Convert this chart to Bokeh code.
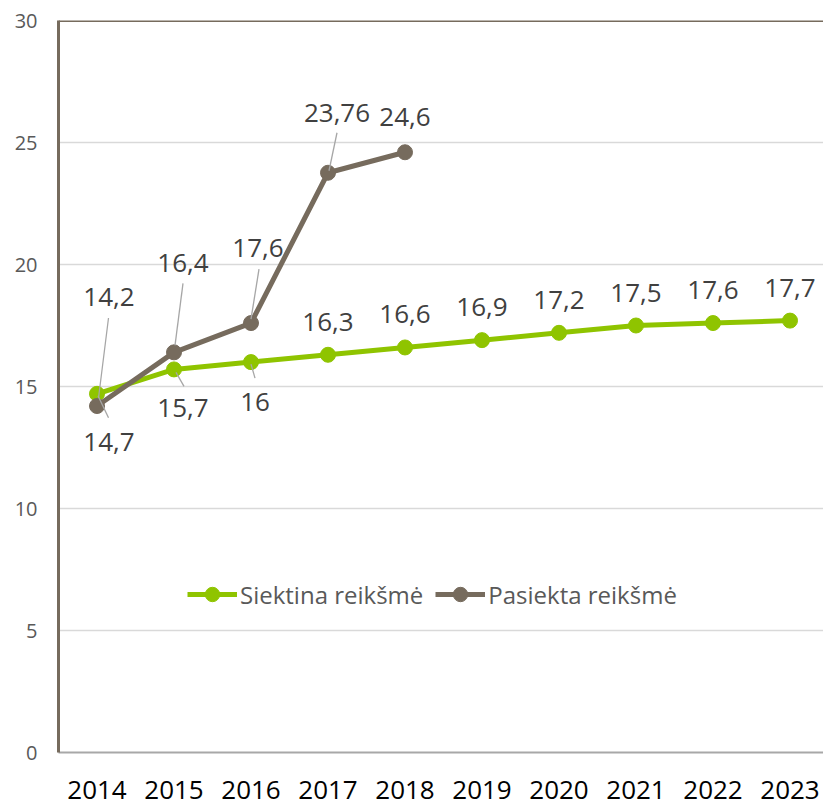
from bokeh.plotting import figure
from bokeh.models import Range1d, FixedTicker, Span, Legend, LegendItem, ColumnDataSource
from bokeh.core.properties import value
from bokeh.embed import file_html
from bokeh.resources import INLINE

# ---- data ----
years = ["2014", "2015", "2016", "2017", "2018", "2019", "2020", "2021", "2022", "2023"]
target = [14.7, 15.7, 16, 16.3, 16.6, 16.9, 17.2, 17.5, 17.6, 17.7]
actual = [14.2, 16.4, 17.6, 23.76, 24.6]
target_labels = ["14,7", "15,7", "16", "16,3", "16,6", "16,9", "17,2", "17,5", "17,6", "17,7"]
actual_labels = ["14,2", "16,4", "17,6", "23,76", "24,6"]
y_ticks = [0, 5, 10, 15, 20, 25, 30]
series_names = ["Siektina reikšmė", "Pasiekta reikšmė"]

# ---- styles / layout ----
GREEN = "#8FC400"
BROWN = "#766B5D"
LEADER = "#A6A6A6"
FONT = "Open Sans"
W, H = 823, 805
LEFT, TOP = 58, 20
FRAME_H = 732
FRAME_W = W - LEFT
CAT_PX = 77.0
PX_Y = FRAME_H / 30.0

# label offsets in screen pixels (dx, dy; dy positive = down)
target_lbl_off = [(12, 48), (9, 39), (4, 40)] + [(0, -33)] * 7
actual_lbl_off = [(12, -109), (9, -89), (7, -75), (9, -60), (0, -35)]
# leader lines (dx0, dy0, dx1, dy1) in pixels from the point
target_leader = [(1, 2, 11.5, 24), (2, 3, 10, 17), (0, 2, 4, 16)] + [None] * 7
actual_leader = [(1.5, -8, 11.5, -88), (1, -7, 9, -69), (0, -4, 8, -54), (1, -2, 9, -40), None]

xt = [i + 0.5 for i in range(len(target))]
xa = [i + 0.5 for i in range(len(actual))]

p = figure(width=W, height=H, output_backend="svg", toolbar_location=None,
           x_range=Range1d(0, FRAME_W / CAT_PX), y_range=Range1d(0, 30),
           min_border_left=LEFT, min_border_top=TOP, min_border_right=0,
           min_border_bottom=H - TOP - FRAME_H)
p.outline_line_color = None
p.background_fill_color = "white"

# axes
p.yaxis.ticker = FixedTicker(ticks=y_ticks)
p.yaxis.axis_line_color = BROWN
p.yaxis.axis_line_width = 3
p.yaxis.major_tick_line_color = None
p.yaxis.minor_tick_line_color = None
p.yaxis.major_tick_out = 0
p.yaxis.major_label_standoff = 21
p.yaxis.major_label_text_font = FONT
p.yaxis.major_label_text_font_size = "20px"
p.yaxis.major_label_text_color = "#595959"

p.xaxis.ticker = FixedTicker(ticks=xt)
p.xaxis.major_label_overrides = {x: y for x, y in zip(xt, years)}
p.xaxis.axis_line_color = "#A8A8A8"
p.xaxis.axis_line_width = 2
p.xaxis.major_tick_line_color = None
p.xaxis.minor_tick_line_color = None
p.xaxis.major_tick_out = 0
p.xaxis.major_label_standoff = 28
p.xaxis.major_label_text_line_height = 0.8
p.xaxis.major_label_text_font = FONT
p.xaxis.major_label_text_font_size = "26px"
p.xaxis.major_label_text_color = "black"

p.xgrid.grid_line_color = None
p.ygrid.grid_line_color = "#D9D9D9"
p.ygrid.grid_line_width = 1.5

p.add_layout(Span(location=30, dimension="width", line_color=BROWN, line_width=3))

# series
gl = p.line(xt, target, line_color=GREEN, line_width=5)
gs = p.scatter(xt, target, size=15, fill_color=GREEN, line_color=GREEN)
bl = p.line(xa, actual, line_color=BROWN, line_width=5)
bs = p.scatter(xa, actual, size=15, fill_color=BROWN, line_color=BROWN)

# leader lines
def leaders(xs, ys, specs):
    x0, y0, x1, y1 = [], [], [], []
    for x, y, s in zip(xs, ys, specs):
        if s is None:
            continue
        x0.append(x + s[0] / CAT_PX)
        y0.append(y - s[1] / PX_Y)
        x1.append(x + s[2] / CAT_PX)
        y1.append(y - s[3] / PX_Y)
    return dict(x0=x0, y0=y0, x1=x1, y1=y1)

for xs, ys, specs in [(xt, target, target_leader), (xa, actual, actual_leader)]:
    p.segment("x0", "y0", "x1", "y1", source=ColumnDataSource(leaders(xs, ys, specs)),
              line_color=LEADER, line_width=1.3)

# data labels
for xs, ys, labs, offs in [(xt, target, target_labels, target_lbl_off),
                           (xa, actual, actual_labels, actual_lbl_off)]:
    src = ColumnDataSource(dict(x=xs, y=ys, t=labs,
                                dx=[o[0] for o in offs], dy=[o[1] for o in offs]))
    p.text("x", "y", text="t", source=src, x_offset="dx", y_offset="dy",
           text_align="center", text_baseline="middle",
           text_font=value(FONT), text_font_size="26px", text_color="#404040")

legend = Legend(items=[LegendItem(label=series_names[0], renderers=[gl, gs]),
                       LegendItem(label=series_names[1], renderers=[bl, bs])],
                location=(129, 140), orientation="horizontal")
legend.label_text_font = FONT
legend.label_text_font_size = "24px"
legend.label_text_color = "#595959"
legend.glyph_width = 50
legend.glyph_height = 36
legend.label_standoff = 3
legend.spacing = 12
legend.padding = 0
legend.margin = 0
legend.border_line_color = None
legend.background_fill_alpha = 0
p.add_layout(legend)

open("out.html", "w").write(file_html(p, INLINE))
